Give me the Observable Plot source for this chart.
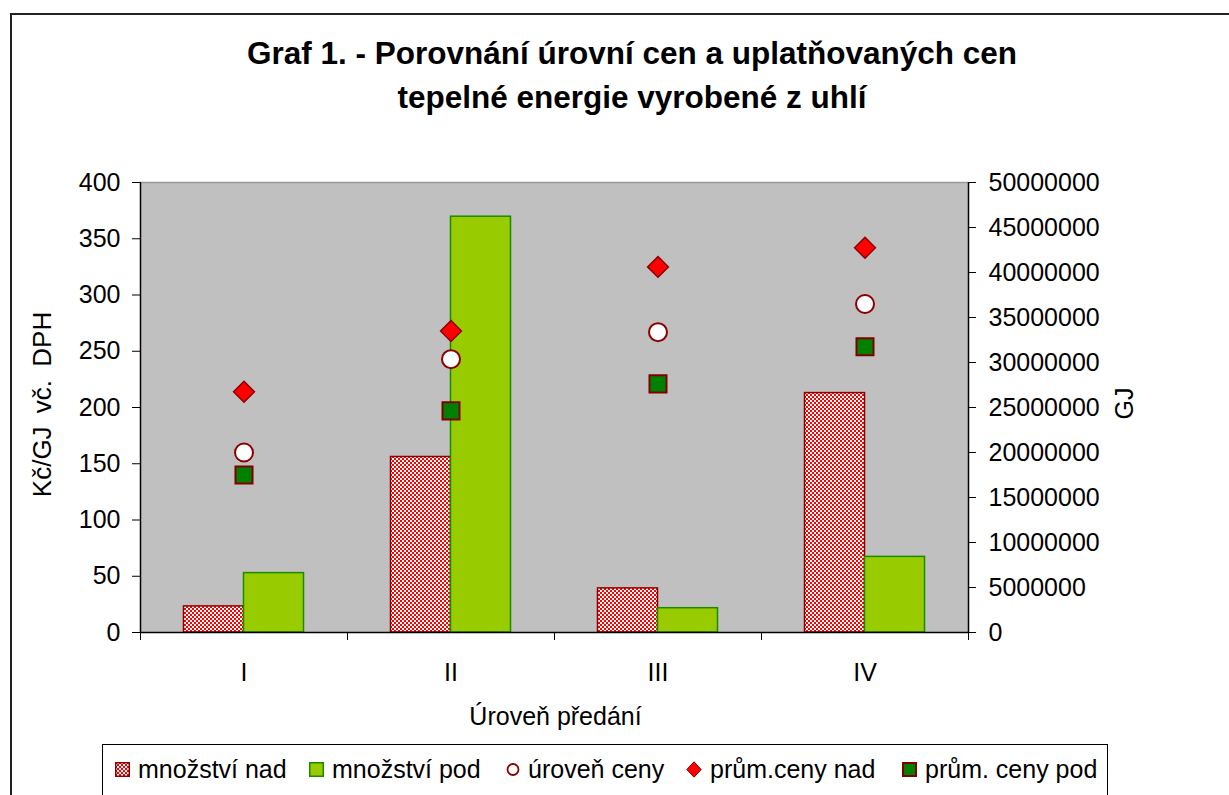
<!DOCTYPE html>
<html>
<head>
<meta charset="utf-8">
<script src="https://cdn.jsdelivr.net/npm/d3@7"></script>
<script src="https://cdn.jsdelivr.net/npm/@observablehq/plot@0.6"></script>
<style>
  html, body { margin: 0; padding: 0; background: #fff; overflow: hidden; width: 1229px; height: 795px; }
  body { position: relative; font-family: "Liberation Sans", Arial, sans-serif; }
  #frame { position: absolute; left: 10px; top: 13px; width: 1242px; height: 800px; border: 2px solid #222; box-sizing: border-box; }
  #title { position: absolute; left: 0; width: 1264px; top: 31px; text-align: center; font-weight: bold; font-size: 31.5px; line-height: 44px; color: #000; }
  #chart { position: absolute; left: 0; top: 140px; }
  #legend { position: absolute; left: 102px; top: 744px; width: 1006px; height: 52px; border: 1.5px solid #000; box-sizing: border-box; font-size: 25px; color: #000; background: #fff; }
  .item { display: flex; align-items: center; white-space: nowrap; }
  .item svg { margin-right: 8px; }
</style>
</head>
<body>
<svg width="0" height="0" style="position:absolute">
  <defs>
    <pattern id="chk" width="4" height="4" patternUnits="userSpaceOnUse">
      <rect width="4" height="4" fill="#ffffff"></rect>
      <rect x="0" y="0" width="2" height="2" fill="#ff0000"></rect>
      <rect x="2" y="2" width="2" height="2" fill="#ff0000"></rect>
    </pattern>
  </defs>
</svg>
<div id="frame"></div>
<div id="title">Graf 1. - Porovnání úrovní cen a uplatňovaných cen<br>tepelné energie vyrobené z uhlí</div>
<div id="chart"></div>
<div id="legend"></div>
<script>
// ---- data ----
const categories = ["I", "II", "III", "IV"];
const mnozstviNad = [2900000, 19500000, 4900000, 26600000];   // GJ (right axis)
const mnozstviPod = [6600000, 46200000, 2700000, 8400000];    // GJ (right axis)
const urovenCeny = [160, 243, 267, 292];                      // Kč/GJ (left axis)
const prumCenyNad = [214, 268, 325, 342];                     // Kč/GJ
const prumCenyPod = [140, 197, 221, 254];                     // Kč/GJ
const leftTicks = [0, 50, 100, 150, 200, 250, 300, 350, 400];
const rightTicks = [0, 5000000, 10000000, 15000000, 20000000, 25000000, 30000000, 35000000, 40000000, 45000000, 50000000];
const seriesNames = ["množství nad", "množství pod", "úroveň ceny", "prům.ceny nad", "prům. ceny pod"];
const yTitle = "Kč/GJ vč. DPH";
const y2Title = "GJ";
const xTitle = "Úroveň předání";

const leftMax = 400, rightMax = 50000000;
const k = rightMax / leftMax; // right-axis value per left-axis unit

const rows = categories.map((c, i) => ({
  cat: c,
  nad: mnozstviNad[i] / k,
  pod: mnozstviPod[i] / k,
  uroven: urovenCeny[i],
  prumNad: prumCenyNad[i],
  prumPod: prumCenyPod[i]
}));

const band = 207; // px, for bar placement insets
const half = band / 2;
const barW = 60;

const plot = Plot.plot({
  width: 1229,
  height: 600,
  marginLeft: 140,
  marginRight: 261,
  marginTop: 42,
  marginBottom: 108,
  style: { fontFamily: "Liberation Sans, Arial, sans-serif", fontSize: "25px", background: "transparent", overflow: "visible", color: "#000" },
  x: { domain: categories, padding: 0, axis: null, label: null },
  y: { domain: [0, leftMax], axis: null, label: null },
  marks: [
    Plot.frame({ fill: "#c0c0c0", stroke: null }),
    Plot.ruleY([leftMax], { stroke: "#9a9a9a", strokeWidth: 1.5 }),
    // bars (right axis values, rescaled)
    Plot.barY(rows, { x: "cat", y: "nad", fill: "url(#chk)", stroke: "#8b0000", strokeWidth: 1.5, insetLeft: half - barW, insetRight: half }),
    Plot.barY(rows, { x: "cat", y: "pod", fill: "#99cc00", stroke: "#1a8a00", strokeWidth: 1.5, insetLeft: half, insetRight: half - barW }),
    // points (left axis)
    Plot.dot(rows, { x: "cat", y: "prumNad", symbol: "diamond2", r: 9.4, fill: "#ff0000", stroke: "#8b0000", strokeWidth: 1.5 }),
    Plot.dot(rows, { x: "cat", y: "uroven", symbol: "circle", r: 9, fill: "#ffffff", stroke: "#8b0000", strokeWidth: 2 }),
    Plot.dot(rows, { x: "cat", y: "prumPod", symbol: "square", r: 9.6, fill: "#008000", stroke: "#800000", strokeWidth: 2 }),
    // axis lines
    Plot.ruleX([categories[0]], { dx: -half, stroke: "#000", strokeWidth: 1.5 }),
    Plot.ruleX([categories[categories.length - 1]], { dx: half, stroke: "#000", strokeWidth: 1.5 }),
    Plot.ruleY([0], { stroke: "#000", strokeWidth: 1.5 }),
    // category boundary ticks
    Plot.ruleX(categories, { dx: -half, y1: 0, y2: 0, insetBottom: -8, stroke: "#000" }),
    Plot.ruleX([categories[categories.length - 1]], { dx: half, y1: 0, y2: 0, insetBottom: -8, stroke: "#000" }),
    // axes
    Plot.axisX({ tickSize: 0, tickPadding: 31, fontSize: 25, label: null }),
    Plot.axisY({ anchor: "left", ticks: leftTicks, tickSize: 8, tickPadding: 12, label: null, fontSize: 25, tickFormat: d => String(d) }),
    Plot.axisY({ anchor: "right", ticks: rightTicks.map(v => v / k), tickSize: 7, tickPadding: 13, label: null, fontSize: 25, tickFormat: d => String(Math.round(d * k)) }),
    // axis titles
    Plot.text([yTitle], { frameAnchor: "left", textAnchor: "middle", lineAnchor: "middle", dx: -98, dy: -3, rotate: -90, fontSize: 26, fill: "#000" }),
    Plot.text([y2Title], { frameAnchor: "right", textAnchor: "middle", lineAnchor: "middle", dx: 156, dy: -4, rotate: -90, fontSize: 25, fill: "#000" }),
    Plot.text([xTitle], { frameAnchor: "bottom", textAnchor: "middle", lineAnchor: "middle", dy: 84, dx: 1, fontSize: 25, fill: "#000" })
  ]
});
document.getElementById("chart").appendChild(plot);
d3.select(plot).selectAll("text").filter(function () { return this.textContent === yTitle; }).style("word-spacing", "6px");

// legend
const swatches = [
  `<svg width="15" height="15"><rect x="0.75" y="0.75" width="13.5" height="13.5" fill="url(#chk)" stroke="#8b0000" stroke-width="1.5"/></svg>`,
  `<svg width="15" height="15"><rect x="0.75" y="0.75" width="13.5" height="13.5" fill="#99cc00" stroke="#1a8a00" stroke-width="1.5"/></svg>`,
  `<svg width="14" height="15"><circle cx="7" cy="7.5" r="5.5" fill="#fff" stroke="#8b0000" stroke-width="1.8"/></svg>`,
  `<svg width="16" height="17"><path d="M8,0.8 L15.2,8.5 L8,16.2 L0.8,8.5 Z" fill="#ff0000" stroke="#8b0000" stroke-width="1"/></svg>`,
  `<svg width="15" height="15"><rect x="1" y="1" width="13" height="13" fill="#008000" stroke="#800000" stroke-width="2"/></svg>`
];
const lefts = [12, 206, 403, 583, 799];
const legend = document.getElementById("legend");
seriesNames.forEach((name, i) => {
  const d = document.createElement("div");
  d.className = "item";
  d.style.position = "absolute";
  d.style.left = lefts[i] + "px";
  d.style.top = "10px";
  d.innerHTML = swatches[i] + `<span>${name}</span>`;
  legend.appendChild(d);
});
</script>
</body>
</html>
